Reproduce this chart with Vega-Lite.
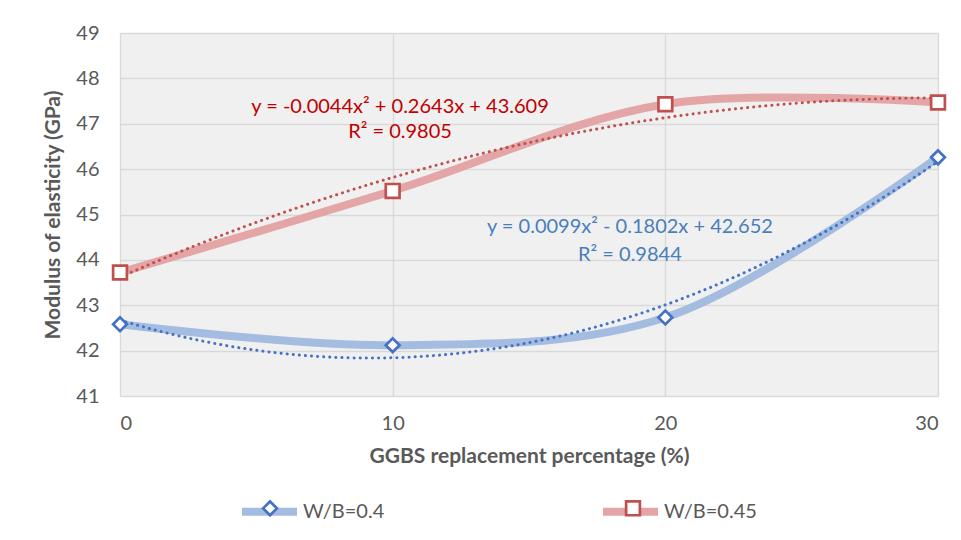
{
  "$schema": "https://vega.github.io/schema/vega-lite/v6.json",
  "autosize": "none",
  "width": 818,
  "height": 363,
  "padding": {"left": 120, "top": 33, "right": 23, "bottom": 144},
  "background": "white",
  "config": {
    "font": "Lato",
    "view": {"fill": "#f0f0f0", "stroke": null},
    "axis": {
      "labelFont": "Lato",
      "labelFontSize": 20,
      "labelColor": "#595959",
      "titleFont": "Lato",
      "titleFontSize": 21,
      "titleFontWeight": "bold",
      "titleColor": "#595959",
      "domain": false,
      "ticks": false,
      "grid": true,
      "gridColor": "#d9d9d9",
      "gridWidth": 1.3
    },
    "legend": {
      "labelFont": "Lato",
      "labelFontSize": 20,
      "labelColor": "#595959"
    }
  },
  "datasets": {
    "pts": [
      {"x": 0, "y": 42.58, "series": "W/B=0.4"},
      {"x": 10, "y": 42.12, "series": "W/B=0.4"},
      {"x": 20, "y": 42.73, "series": "W/B=0.4"},
      {"x": 30, "y": 46.26, "series": "W/B=0.4"},
      {"x": 0, "y": 43.72, "series": "W/B=0.45"},
      {"x": 10, "y": 45.52, "series": "W/B=0.45"},
      {"x": 20, "y": 47.43, "series": "W/B=0.45"},
      {"x": 30, "y": 47.47, "series": "W/B=0.45"}
    ],
    "notes": [
      {"x": 10.27, "y": 47.38, "text": "y = -0.0044x² + 0.2643x + 43.609", "series": "W/B=0.45"},
      {"x": 10.27, "y": 46.81, "text": "R² = 0.9805", "series": "W/B=0.45"},
      {"x": 18.7, "y": 44.72, "text": "y = 0.0099x² - 0.1802x + 42.652", "series": "W/B=0.4"},
      {"x": 18.7, "y": 44.1, "text": "R² = 0.9844", "series": "W/B=0.4"}
    ]
  },
  "layer": [
    {
      "data": {"name": "pts"},
      "mark": {"type": "line", "interpolate": "catmull-rom", "strokeWidth": 8, "strokeCap": "round"},
      "encoding": {
        "x": {"field": "x", "type": "quantitative", "scale": {"domain": [0, 30], "nice": false}, "axis": {"values": [0, 10, 20, 30], "title": "GGBS replacement percentage (%)", "labelPadding": 17, "titlePadding": 12}},
        "y": {"field": "y", "type": "quantitative", "scale": {"domain": [41, 49], "nice": false, "zero": false}, "axis": {"values": [41, 42, 43, 44, 45, 46, 47, 48, 49], "title": "Modulus of elasticity (GPa)", "labelPadding": 21, "titlePadding": 12}},
        "color": {
          "field": "series", "type": "nominal",
          "scale": {"domain": ["W/B=0.4", "W/B=0.45"], "range": ["#a3bce0", "#e3a5a5"]},
          "legend": {
            "title": null, "orient": "none", "direction": "horizontal",
            "legendX": 118, "legendY": 447,
            "symbolType": "stroke", "symbolSize": 3025, "symbolStrokeWidth": 8,
            "labelOffset": 2, "columnPadding": 191, "gridAlign": "all"
          }
        }
      }
    },
    {
      "data": {"name": "pts"},
      "transform": [
        {"filter": "datum.series === 'W/B=0.4'"},
        {"regression": "y", "on": "x", "method": "poly", "order": 2, "extent": [0, 30]}
      ],
      "mark": {"type": "line", "color": "#4472c4", "strokeWidth": 3, "strokeDash": [0.1, 6], "strokeCap": "round"},
      "encoding": {
        "x": {"field": "x", "type": "quantitative"},
        "y": {"field": "y", "type": "quantitative"}
      }
    },
    {
      "data": {"name": "pts"},
      "transform": [
        {"filter": "datum.series === 'W/B=0.45'"},
        {"regression": "y", "on": "x", "method": "poly", "order": 2, "extent": [0, 30]}
      ],
      "mark": {"type": "line", "color": "#c0504d", "strokeWidth": 3, "strokeDash": [0.1, 6], "strokeCap": "round"},
      "encoding": {
        "x": {"field": "x", "type": "quantitative"},
        "y": {"field": "y", "type": "quantitative"}
      }
    },
    {
      "data": {"name": "pts"},
      "mark": {"type": "point", "filled": false, "fill": "white", "fillOpacity": 1, "strokeWidth": 2.7, "size": 190, "opacity": 1},
      "encoding": {
        "x": {"field": "x", "type": "quantitative"},
        "y": {"field": "y", "type": "quantitative"},
        "stroke": {
          "field": "series", "type": "nominal",
          "scale": {"range": ["#4472c4", "#c0504d"]},
          "legend": {
            "title": null, "orient": "none", "direction": "horizontal",
            "legendX": 140, "legendY": 465,
            "symbolSize": 190, "symbolStrokeWidth": 2.7, "symbolFillColor": "white",
            "labelExpr": "''",
            "labelOffset": 44, "columnPadding": 296, "gridAlign": "all"
          }
        },
        "shape": {
          "field": "series", "type": "nominal",
          "scale": {"range": ["diamond", "square"]},
          "legend": {
            "title": null, "orient": "none", "direction": "horizontal",
            "legendX": 140, "legendY": 465,
            "symbolSize": 190, "symbolStrokeWidth": 2.7, "symbolFillColor": "white",
            "labelExpr": "''",
            "labelOffset": 44, "columnPadding": 296, "gridAlign": "all"
          }
        }
      }
    },
    {
      "data": {"name": "notes"},
      "mark": {"type": "text", "fontSize": 20, "font": "Lato", "align": "center", "baseline": "middle"},
      "encoding": {
        "x": {"field": "x", "type": "quantitative"},
        "y": {"field": "y", "type": "quantitative"},
        "text": {"field": "text"},
        "fill": {
          "field": "series", "type": "nominal",
          "scale": {"range": ["#4a7ebb", "#c00000"]},
          "legend": null
        }
      }
    }
  ]
}
